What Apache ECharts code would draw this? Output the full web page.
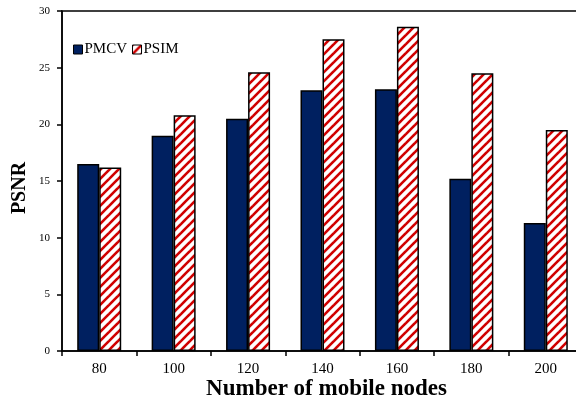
<!DOCTYPE html>
<html>
<head>
<meta charset="utf-8">
<script src="https://cdn.jsdelivr.net/npm/echarts@6/dist/echarts.min.js"></script>
<style>
  html, body { margin: 0; padding: 0; background: #fff; }
  #chart { width: 576px; height: 401px; }
</style>
</head>
<body>
<div id="chart"></div>
<script>
var categories = ['80', '100', '120', '140', '160', '180', '200'];
var pmcv = [16.5, 19.0, 20.5, 23.0, 23.1, 15.2, 11.3];
var psim = [16.2, 20.8, 24.6, 27.5, 28.6, 24.5, 19.5];
var yTicks = [0, 5, 10, 15, 20, 25, 30];

// red/white diagonal hatch
function makeHatch() {
    var c = document.createElement('canvas');
    c.width = 9;
    c.height = 9;
    var ctx = c.getContext('2d');
    ctx.fillStyle = '#ffffff';
    ctx.fillRect(0, 0, 9, 9);
    ctx.strokeStyle = '#d00000';
    ctx.lineWidth = 2.6;
    for (var k = -1; k <= 1; k++) {
        ctx.beginPath();
        ctx.moveTo(k * 9 - 1, 10);
        ctx.lineTo(k * 9 + 10, -1);
        ctx.stroke();
    }
    return c;
}
var hatch = { image: makeHatch(), repeat: 'repeat' };

var chart = echarts.init(document.getElementById('chart'));
var serif = '"Liberation Serif", "Times New Roman", serif';
var option = {
    animation: false,
    textStyle: { fontFamily: serif },
    grid: {
        left: 62, top: 11, width: 521, height: 340,
        show: true, borderColor: '#000', borderWidth: 1.5,
        containLabel: false,
        outerBoundsMode: 'none'
    },
    legend: {
        left: 68, top: 37,
        itemWidth: 9, itemHeight: 9, itemGap: 5,
        textStyle: { fontFamily: serif, fontSize: 15, color: '#000', padding: [0, 0, 0, -3] },
        data: [
            { name: 'PMCV', icon: 'rect', itemStyle: { borderColor: '#000', borderWidth: 1 } },
            { name: 'PSIM', icon: 'rect', itemStyle: { borderColor: '#000', borderWidth: 1 } }
        ]
    },
    xAxis: {
        type: 'category',
        data: categories,
        name: 'Number of mobile nodes',
        nameLocation: 'middle',
        nameGap: 27,
        nameMoveOverlap: false,
        nameTextStyle: { fontFamily: serif, fontSize: 23, fontWeight: 'bold', color: '#000', padding: [0, 0, 0, 8] },
        axisLine: { lineStyle: { color: '#000', width: 1.5 } },
        axisTick: { show: true, length: 5, lineStyle: { color: '#000', width: 1.5 } },
        axisLabel: { fontFamily: serif, fontSize: 15, color: '#000', margin: 11 }
    },
    yAxis: {
        type: 'value',
        min: yTicks[0], max: yTicks[yTicks.length - 1], interval: 5,
        name: 'PSNR',
        nameLocation: 'middle',
        nameGap: 32,
        nameMoveOverlap: false,
        nameTextStyle: { fontFamily: serif, fontSize: 20, fontWeight: 'bold', color: '#000', padding: [0, 14, 0, 0] },
        axisLine: { show: true, lineStyle: { color: '#000', width: 1.5 } },
        axisTick: { show: true, length: 5, lineStyle: { color: '#000', width: 1.5 } },
        axisLabel: { fontFamily: serif, fontSize: 11, color: '#000', margin: 12 },
        splitLine: { show: false }
    },
    series: [
        {
            name: 'PMCV',
            type: 'bar',
            data: pmcv,
            barWidth: 22,
            barGap: '0%',
            itemStyle: { color: '#002060', borderColor: '#000', borderWidth: 1.5 }
        },
        {
            name: 'PSIM',
            type: 'bar',
            data: psim,
            barWidth: 22,
            barGap: '0%',
            itemStyle: { color: hatch, borderColor: '#000', borderWidth: 1.5 }
        }
    ]
};
chart.setOption(option);
</script>
</body>
</html>
